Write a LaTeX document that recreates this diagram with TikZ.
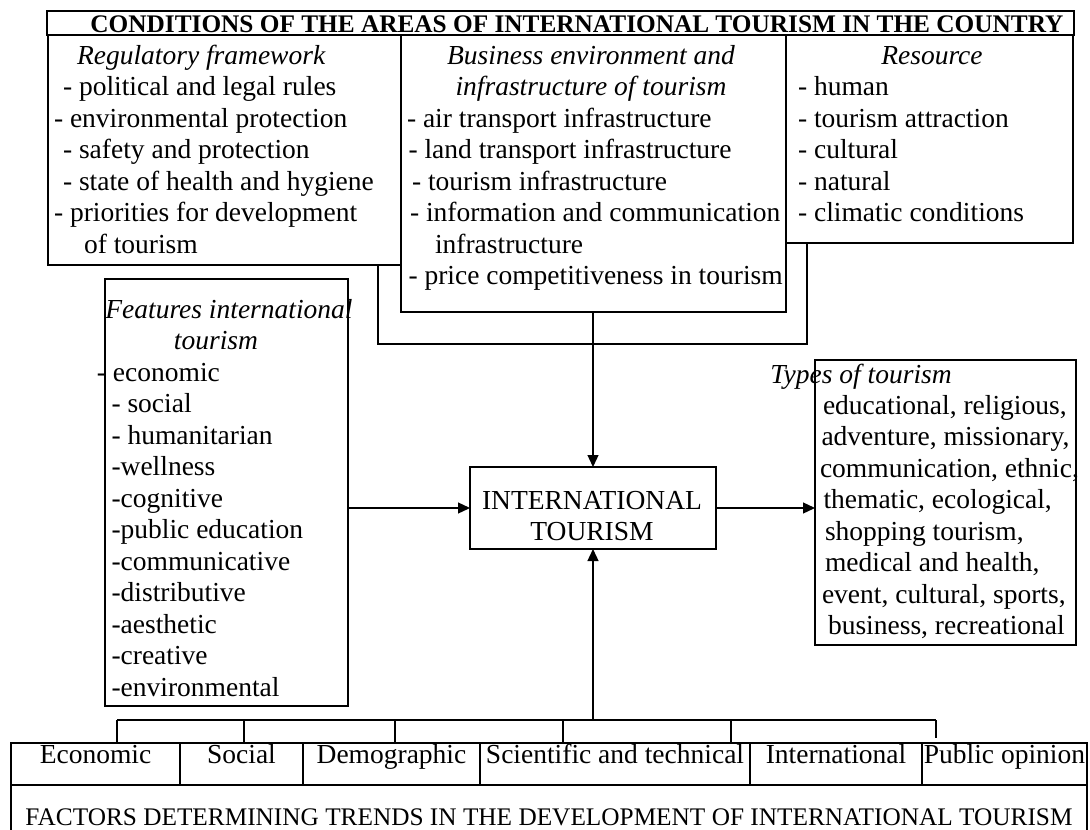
\documentclass[tikz,border=0pt]{standalone}
\usepackage{fontspec}
\setmainfont{Liberation Serif}
\usetikzlibrary{arrows.meta}

\begin{document}
\begin{tikzpicture}[x=1pt,y=-1pt,line width=1.5pt,
  box/.style={draw, rectangle, inner sep=0pt, outer sep=0pt, anchor=north west},
  txt/.style={inner sep=0pt, outer sep=0pt, anchor=base west, align=left, font=\fontsize{27.5}{31.5}\selectfont},
  ttl/.style={inner sep=0pt, outer sep=0pt, anchor=base, align=center, font=\fontsize{27.5}{31.5}\selectfont\itshape},
  cell/.style={draw, rectangle, inner sep=0pt, outer sep=0pt, anchor=north west, minimum height=42pt, text height=19.5pt, text depth=20.5pt, font=\fontsize{27.5}{31.5}\selectfont},
  arr/.style={-{Triangle[length=12pt,width=11pt]}, line width=1.3pt}]

\useasboundingbox (0,0) rectangle (1090,830);

\node[box, minimum width=1027pt, minimum height=24pt] (headBox) at (47,11) {};
\node[inner sep=0pt, anchor=base, font=\fontsize{25.3}{30}\selectfont\bfseries] (headText) at (577,32) {CONDITIONS OF THE AREAS OF INTERNATIONAL TOURISM IN THE COUNTRY};

\node[box, minimum width=353pt, minimum height=230pt] (regBox) at (48,35) {};
\node[txt] (regText) at (54,253) {\hspace*{23pt}\textit{Regulatory framework}\\ \hspace*{9pt}- political and legal rules\\ - environmental protection\\ \hspace*{9pt}- safety and protection\\ \hspace*{9pt}- state of health and hygiene\\ - priorities for development\\ \hspace*{30pt}of tourism};

\node[box, minimum width=385pt, minimum height=277pt] (busBox) at (401,35) {};
\node[ttl] (busTitle) at (591,95.5) {Business environment and\\infrastructure of tourism};
\node[txt] (busText) at (407,284.5) {- air transport infrastructure\\ \hspace*{1.5pt}- land transport infrastructure\\ \hspace*{5pt}- tourism infrastructure\\ \hspace*{3pt}- information and communication\\ \hspace*{28pt}infrastructure\\ \hspace*{1.5pt}- price competitiveness in tourism};

\node[box, minimum width=287pt, minimum height=208pt] (resBox) at (786,35) {};
\node[ttl] (resTitle) at (932,64) {Resource};
\node[txt] (resText) at (798,221.5) {- human\\- tourism attraction\\- cultural\\- natural\\- climatic conditions};

\coordinate (brL) at (378,344);
\coordinate (brR) at (807,344);
\draw[line width=1.3pt] (regBox.south -| brL) -- (brL) -- (brR) -- (resBox.south -| brR);

\node[box, minimum width=243pt, minimum height=427pt] (featBox) at (105,279) {};
\node[ttl] (featTitle) at (229,349.5) {Features international\\tourism\hspace*{26pt}};
\node[txt] (featText) at (111.5,696) {\llap{-\hspace*{5.5pt}}\hspace*{1.5pt}economic\\- social\\- humanitarian\\-wellness\\-cognitive\\-public education\\-communicative\\-distributive\\-aesthetic\\-creative\\-environmental};

\node[box, minimum width=246pt, minimum height=82pt] (intlBox) at (470,467) {};
\node[inner sep=0pt, anchor=base, align=center, font=\fontsize{27.5}{31.5}\selectfont] (intlText) at (592,540.5) {INTERNATIONAL\\TOURISM};

\node[box, minimum width=261pt, minimum height=285pt] (typesBox) at (815,360) {};
\node[inner sep=0pt, anchor=base west, font=\fontsize{27.5}{31.5}\selectfont\itshape] (typesTitle) at (769.7,383) {Types of tourism};
\node[txt] (typesText) at (820,634.5) {\hspace*{3pt}educational, religious,\\ \hspace*{1.5pt}adventure, missionary,\\communication, ethnic,\\ \hspace*{3.5pt}thematic, ecological,\\ \hspace*{5pt}shopping tourism,\\ \hspace*{5pt}medical and health,\\ \hspace*{2pt}event, cultural, sports,\\ \hspace*{8pt}business, recreational};

\draw[arr] (intlBox.north |- busBox.south) -- (intlBox.north);
\draw[arr] (intlBox.west -| featBox.east) -- (intlBox.west);
\draw[arr] (intlBox.east) -- (intlBox.east -| typesBox.west);

\node[cell, minimum width=169pt] (econCell) at (11,743) {Economic};
\node[cell, minimum width=123pt] (socCell) at (180,743) {Social};
\node[cell, minimum width=177pt] (demoCell) at (303,743) {Demographic};
\node[cell, minimum width=270pt] (sciCell) at (480,743) {Scientific and technical};
\node[cell, minimum width=172pt] (intCell) at (750,743) {International};
\node[cell, minimum width=165pt] (pubCell) at (922,743) {Public opinion};

\node[box, minimum width=1076pt, minimum height=50pt] (factBox) at (11,785) {};
\node[inner sep=0pt, anchor=base, font=\fontsize{25.3}{30}\selectfont] (factText) at (549,825) {FACTORS DETERMINING TRENDS IN THE DEVELOPMENT OF INTERNATIONAL TOURISM};

\coordinate (bkL) at (117,720);
\coordinate (bkR) at (936,720);
\draw[line width=1.3pt] (bkL) -- (bkR);
\draw[line width=1.3pt] (bkL) -- (bkL |- econCell.north);
\draw[line width=1.3pt] (244,720) -- (244,743);
\draw[line width=1.3pt] (395,720) -- (395,743);
\draw[line width=1.3pt] (563,720) -- (563,743);
\draw[line width=1.3pt] (731,720) -- (731,743);
\draw[line width=1.3pt] (bkR) -- (936,738);
\draw[arr] (intlBox.south |- bkL) -- (intlBox.south);

\end{tikzpicture}
\end{document}
